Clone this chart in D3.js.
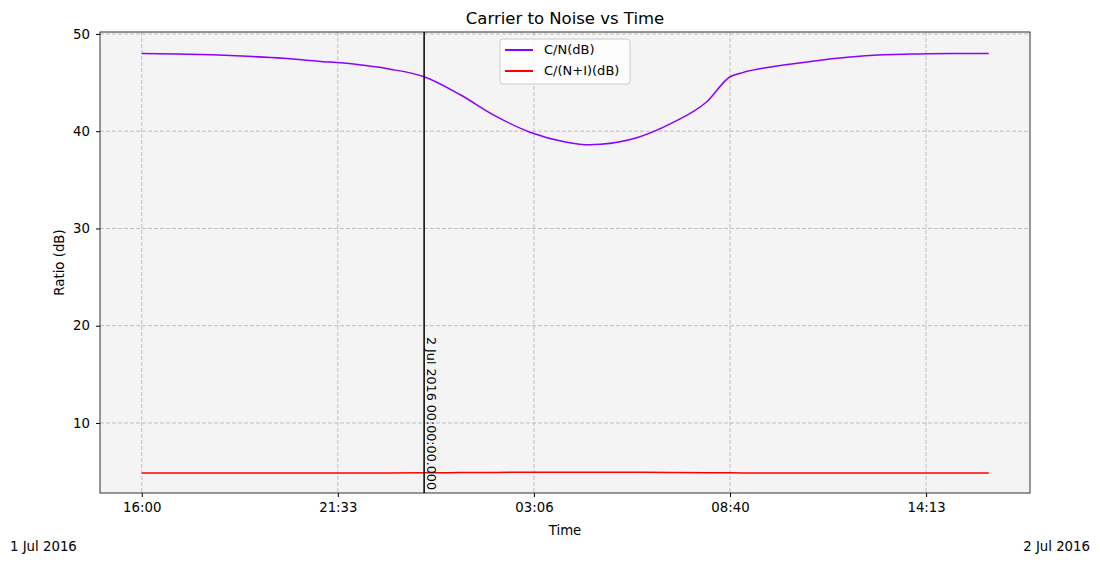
<!DOCTYPE html>
<html>
<head>
<script src="https://d3js.org/d3.v7.min.js"></script>
<style>
  body { margin: 0; background: #fff; }
  text { font-family: "DejaVu Sans", sans-serif; }
</style>
</head>
<body>
<svg width="1100" height="564"></svg>
<script>
// hours after 1 Jul 2016 16:00
const hours = [0, 1, 2, 3, 4, 5, 6, 7, 8, 9, 10, 11, 12, 12.7, 13, 14, 15, 16, 16.67, 17, 18, 19, 20, 21, 22, 23, 24];
const cn    = [48.0, 47.95, 47.85, 47.7, 47.5, 47.2, 46.9, 46.4, 45.6, 43.8, 41.6, 39.9, 38.9, 38.6, 38.65, 39.3, 40.8, 43.0, 45.6, 46.0, 46.7, 47.2, 47.6, 47.85, 47.95, 48.0, 48.0];
const cni   = [4.85, 4.85, 4.85, 4.85, 4.85, 4.85, 4.85, 4.86, 4.87, 4.9, 4.92, 4.93, 4.94, 4.94, 4.94, 4.93, 4.91, 4.89, 4.87, 4.86, 4.85, 4.85, 4.85, 4.85, 4.85, 4.85, 4.85];
const tickMinutes = [0, 333.33, 666.67, 1000, 1333.33];
const tickLabels = ["16:00", "21:33", "03:06", "08:40", "14:13"];
const yTicks = [10, 20, 30, 40, 50];

const svg = d3.select("svg");
const L = 100, R = 1030, T = 32, B = 493;
const t0 = new Date(2016, 6, 1, 16, 0);
const toDate = m => new Date(t0.getTime() + m * 60000);
const x = d3.scaleTime().domain([toDate(-71), toDate(1510)]).range([L, R]);
const y = d3.scaleLinear().domain([2.8, 50.2]).range([B, T]);

svg.append("rect").attr("x", L).attr("y", T).attr("width", R - L).attr("height", B - T).attr("fill", "#f4f4f4");

const grid = svg.append("g").attr("stroke", "#b0b0b0").attr("stroke-dasharray", "4,2").attr("stroke-width", 0.8);
tickMinutes.forEach(m => grid.append("line").attr("x1", x(toDate(m))).attr("x2", x(toDate(m))).attr("y1", T).attr("y2", B));
yTicks.forEach(v => grid.append("line").attr("x1", L).attr("x2", R).attr("y1", y(v)).attr("y2", y(v)));

const line = vals => d3.line().x((d, i) => x(toDate(hours[i] * 60))).y(d => y(d)).curve(d3.curveMonotoneX)(vals);
svg.append("path").attr("d", line(cn)).attr("fill", "none").attr("stroke", "#8b00ff").attr("stroke-width", 1.5);
svg.append("path").attr("d", line(cni)).attr("fill", "none").attr("stroke", "#ff0000").attr("stroke-width", 1.5);

const vx = x(toDate(480));
svg.append("line").attr("x1", vx).attr("x2", vx).attr("y1", T).attr("y2", B).attr("stroke", "#000").attr("stroke-width", 1.5);
svg.append("text").attr("transform", `translate(${vx + 3},337) rotate(90)`).attr("font-size", 12.7).text("2 Jul 2016 00:00:00.000");

const xa = svg.append("g").attr("transform", `translate(0,${B})`)
  .call(d3.axisBottom(x).tickValues(tickMinutes.map(toDate)).tickFormat((d, i) => tickLabels[i]).tickSize(4).tickPadding(6));
const ya = svg.append("g").attr("transform", `translate(${L},0)`)
  .call(d3.axisLeft(y).tickValues(yTicks).tickSize(4).tickPadding(6));
[xa, ya].forEach(a => { a.select(".domain").remove(); a.selectAll("text").attr("font-size", 13.3).attr("fill", "#000").attr("font-family", "DejaVu Sans"); });
svg.append("rect").attr("x", L).attr("y", T).attr("width", R - L).attr("height", B - T).attr("fill", "none").attr("stroke", "#000").attr("stroke-width", 0.8);

svg.append("text").attr("x", (L + R) / 2).attr("y", 24).attr("text-anchor", "middle").attr("font-size", 16.5).text("Carrier to Noise vs Time");
svg.append("text").attr("x", (L + R) / 2).attr("y", 535).attr("text-anchor", "middle").attr("font-size", 13.3).text("Time");
svg.append("text").attr("transform", `translate(64,${(T + B) / 2}) rotate(-90)`).attr("text-anchor", "middle").attr("font-size", 13.3).text("Ratio (dB)");
svg.append("text").attr("x", 10).attr("y", 551).attr("font-size", 13.3).text("1 Jul 2016");
svg.append("text").attr("x", 1090).attr("y", 551).attr("text-anchor", "end").attr("font-size", 13.3).text("2 Jul 2016");

const lg = svg.append("g").attr("transform", "translate(500,39)");
lg.append("rect").attr("width", 130).attr("height", 45).attr("rx", 3).attr("fill", "#fff").attr("fill-opacity", 0.8).attr("stroke", "#ccc");
[["C/N(dB)", "#8b00ff"], ["C/(N+I)(dB)", "#ff0000"]].forEach(([t, c], i) => {
  lg.append("line").attr("x1", 5).attr("x2", 33).attr("y1", 11 + i * 21).attr("y2", 11 + i * 21).attr("stroke", c).attr("stroke-width", 2);
  lg.append("text").attr("x", 44).attr("y", 15 + i * 21).attr("font-size", 13).text(t);
});
</script>
</body>
</html>
